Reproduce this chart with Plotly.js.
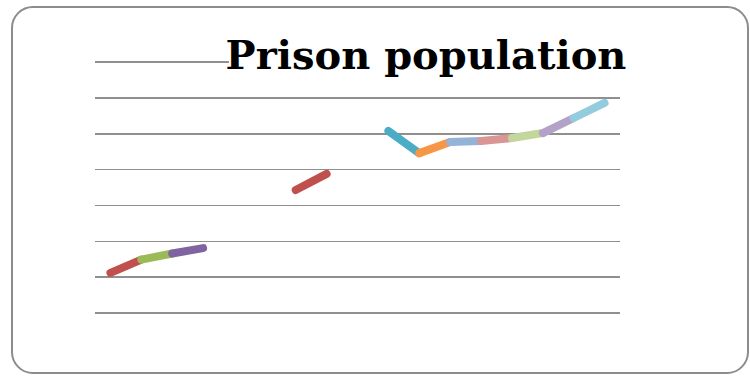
<!DOCTYPE html>
<html>
<head>
<meta charset="utf-8">
<script src="https://cdn.plot.ly/plotly-3.0.1.min.js"></script>
<style>
  html, body { margin: 0; padding: 0; background: #ffffff; }
  #wrap { position: relative; width: 750px; height: 376px; overflow: hidden; }
  #chart { position: absolute; left: 0; top: 0; width: 750px; height: 376px; }
  #frame { position: absolute; left: 11px; top: 6px; width: 738px; height: 368px;
           box-sizing: border-box; border: 2px solid #8c8c8c; border-radius: 22px;
           pointer-events: none; }
  .scatterlayer path.js-line { stroke-linecap: round; stroke-linejoin: round; }
</style>
</head>
<body>
<div id="wrap">
  <div id="chart"></div>
  <div id="frame"></div>
</div>
<script>
// Data; null = no value (gap in the line)
var categories = [1, 2, 3, 4, 5, 6, 7, 8, 9, 10, 11, 12, 13, 14, 15, 16, 17];
var population = [1.12, 1.49, 1.66, 1.81, null, null, 3.43, 3.88, null,
                  5.08, 4.46, 4.77, 4.80, 4.88, 5.02, 5.44, 5.86];
// colour of the line segment that ends at each point ("vary colours by point")
var segmentColors = [null, '#C0504D', '#9BBB59', '#8064A2', null, null, null, '#C0504D', null,
                     null, '#4BACC6', '#F79646', '#95B3D7', '#D99694', '#C3D69B', '#B3A2C7', '#93CDDD'];
var titleText = 'Prison population';

var traces = [];
for (var i = 1; i < categories.length; i++) {
  if (population[i - 1] === null || population[i] === null) continue;
  traces.push({
    type: 'scatter',
    mode: 'lines',
    x: [categories[i - 1], categories[i]],
    y: [population[i - 1], population[i]],
    line: { color: segmentColors[i], width: 8 },
    hoverinfo: 'skip',
    showlegend: false
  });
}

var layout = {
  width: 750,
  height: 376,
  margin: { l: 95, r: 130, t: 61, b: 63, pad: 0 },
  paper_bgcolor: '#ffffff',
  plot_bgcolor: '#ffffff',
  showlegend: false,
  title: {
    text: '<b>' + titleText + '</b>',
    font: { family: 'DejaVu Serif', size: 40, color: '#000000' },
    xref: 'container', yref: 'container',
    x: 426 / 750, xanchor: 'center',
    y: 1 - 55 / 376, yanchor: 'middle'
  },
  xaxis: {
    range: [0.5, 17.5],
    showgrid: false, zeroline: false, showline: false,
    showticklabels: false, ticks: '', fixedrange: true
  },
  yaxis: {
    range: [0, 7.03],
    dtick: 1, tick0: 0,
    showgrid: true, gridcolor: '#8f8f8f', gridwidth: 1.5,
    zeroline: true, zerolinecolor: '#8f8f8f', zerolinewidth: 1.5,
    showline: false, showticklabels: false, ticks: '', fixedrange: true
  },
  shapes: [{
    type: 'rect', layer: 'above',
    xref: 'paper', yref: 'paper',
    x0: (229 - 95) / 525, x1: 1.01,
    y0: 6.85 / 7.03, y1: 1.0,
    fillcolor: '#ffffff', line: { width: 0 }
  }]
};

Plotly.newPlot('chart', traces, layout, { displayModeBar: false, staticPlot: true });
</script>
</body>
</html>
